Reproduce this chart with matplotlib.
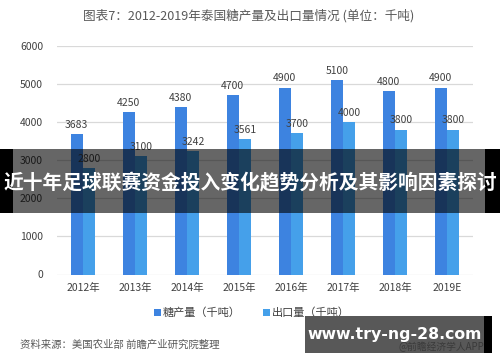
import matplotlib
matplotlib.use("Agg")
import matplotlib.pyplot as plt
from matplotlib.patches import Rectangle
import numpy as np

plt.rcParams['font.family'] = ['Noto Sans CJK SC', 'DejaVu Sans']

categories = ["2012年", "2013年", "2014年", "2015年", "2016年", "2017年", "2018年", "2019E"]
sugar_output = [3683, 4250, 4380, 4700, 4900, 5100, 4800, 4900]
sugar_export = [2800, 3100, 3242, 3561, 3700, 4000, 3800, 3800]
series_names = ["糖产量（千吨）", "出口量（千吨）"]
yticks = [0, 1000, 2000, 3000, 4000, 5000, 6000]

W, H = 500, 362
fig = plt.figure(figsize=(5, 3.62), dpi=100)
ax = fig.add_axes([57 / W, (H - 274.5) / H, 416 / W, (274.5 - 45.7) / H])

c1, c2 = "#3d83e0", "#45a0ea"
x = np.arange(len(categories))
bw = 0.24
b1 = ax.bar(x - bw / 2, sugar_output, bw, color=c1, label=series_names[0], zorder=2)
b2 = ax.bar(x + bw / 2, sugar_export, bw, color=c2, label=series_names[1], zorder=2)
for bars, vals in ((b1, sugar_output), (b2, sugar_export)):
    for r, v in zip(bars, vals):
        ax.annotate(str(v), (r.get_x() + r.get_width() / 2, v), xytext=(0, 3),
                    textcoords="offset points", ha="center", va="bottom",
                    fontsize=7.5, color="#404040")

ax.set_xlim(-0.5, len(categories) - 0.5)
ax.set_ylim(0, 6000)
ax.set_yticks(yticks)
ax.set_yticklabels([str(t) for t in yticks])
ax.set_xticks(x)
ax.set_xticklabels(categories)
ax.tick_params(axis='both', length=0, labelsize=7.5, colors="#404040")
ax.tick_params(axis='y', pad=10)
ax.tick_params(axis='x', pad=6)
ax.grid(axis='y', color="#d9d9d9", linewidth=0.9, zorder=0)
for s in ax.spines.values():
    s.set_visible(False)

leg = fig.legend(handles=[b1, b2], labels=series_names, loc="center",
                 bbox_to_anchor=(252 / W, (H - 313) / H), ncol=2, frameon=False,
                 fontsize=8, handlelength=0.6, handleheight=0.6, handletextpad=0.2,
                 columnspacing=2.0, labelcolor="#404040")

fig.text(249 / W, (H - 16) / H, "图表7：2012-2019年泰国糖产量及出口量情况 (单位：千吨)",
         ha="center", va="center", fontsize=9.1, color="#595959")
fig.text(20 / W, (H - 345) / H, "资料来源：美国农业部 前瞻产业研究院整理",
         ha="left", va="center", fontsize=7.5, color="#595959")

# overlay banner
fig.add_artist(Rectangle((0, (H - 213) / H), 1, 64 / H, transform=fig.transFigure,
                         facecolor="black", alpha=0.6, edgecolor="none", zorder=10))
fig.add_artist(Rectangle((0, (H - 213) / H), 13 / W, 64 / H, transform=fig.transFigure,
                         facecolor="black", edgecolor="none", zorder=11))
fig.add_artist(Rectangle((485 / W, (H - 213) / H), 15 / W, 64 / H, transform=fig.transFigure,
                         facecolor="black", edgecolor="none", zorder=11))
fig.text(0.5, (H - 183) / H, "近十年足球联赛资金投入变化趋势分析及其影响因素探讨",
         ha="center", va="center", fontsize=14.2, fontweight="bold", color="white", zorder=12)

# bottom-right box
fig.add_artist(Rectangle((305 / W, (H - 353) / H), 179 / W, 37 / H, transform=fig.transFigure,
                         facecolor="#585858", edgecolor="none", zorder=10))
fig.add_artist(Rectangle((484 / W, (H - 353) / H), 8 / W, 37 / H, transform=fig.transFigure,
                         facecolor="black", edgecolor="none", zorder=11))
fig.text(484 / W, (H - 347) / H, "@前瞻经济学人APP", ha="right", va="center",
         fontsize=7, color="#3a3a3a", zorder=12)
fig.text(395 / W, (H - 334) / H, "www.try-ng-28.com", ha="center", va="center",
         fontsize=11.3, fontweight="bold", color="white", family="DejaVu Sans", zorder=13)

fig.savefig("out.png", dpi=100, facecolor="white")
